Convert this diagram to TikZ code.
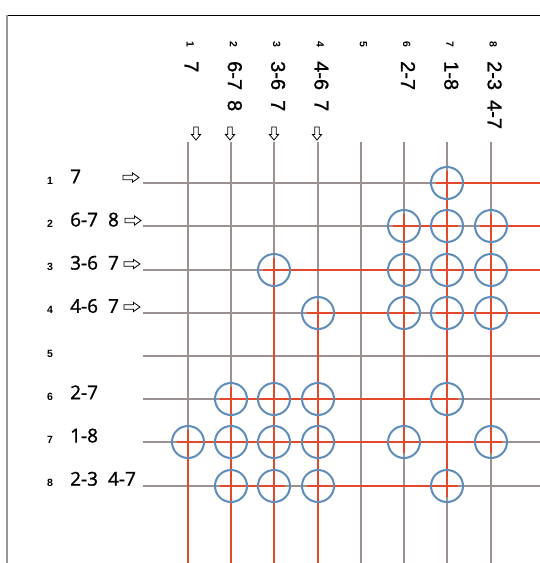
\documentclass[tikz,border=0pt]{standalone}
\usepackage{fontspec}
\setmainfont{Liberation Sans}
\newfontfamily\hdrfont[FakeBold=1.2]{Liberation Sans}
\newfontfamily\rowfont[FakeBold=1.2]{Open Sans}
\newcommand\labelgap{\hspace{10pt}}
\definecolor{gridgray}{RGB}{155,145,145}
\definecolor{redline}{RGB}{228,72,42}
\definecolor{ringblue}{RGB}{95,140,185}
\definecolor{framegray}{RGB}{150,150,150}
\tikzset{
  gridline/.style={draw=gridgray, line width=1.5pt},
  redseg/.style={draw=redline, line width=2pt},
  ring/.style={circle, draw=ringblue, line width=2pt, minimum size=32pt, inner sep=0pt},
  bignum/.style={font=\hdrfont\fontsize{20}{20}\selectfont, inner sep=0pt, anchor=base west},
  rowbig/.style={font=\rowfont\fontsize{19}{19}\selectfont, inner sep=0pt, anchor=base west},
  smallnum/.style={font=\bfseries\fontsize{10.5}{10.5}\selectfont, inner sep=0pt},
  arrowline/.style={draw=black, line width=0.8pt, line join=miter, fill=white},
  darrow/.pic={\path[arrowline] (-2.3,-6.5) -- (2.3,-6.5) -- (2.3,1) -- (4.6,1) -- (0,6.5) -- (-4.6,1) -- (-2.3,1) -- cycle;},
  rarrow/.pic={\path[arrowline] (-8,-2.3) -- (1.5,-2.3) -- (1.5,-4.6) -- (8,0) -- (1.5,4.6) -- (1.5,2.3) -- (-8,2.3) -- cycle;}
}
\begin{document}
\begin{tikzpicture}[x=1pt,y=-1pt]
\useasboundingbox (0,0) rectangle (540,563);
% frame
\coordinate (fa) at (7,15);
\coordinate (fb) at (540,15);
\coordinate (fc) at (7,563);
\draw[black, line width=0.9pt] (fa) -- (fb);
\draw[framegray, line width=2pt] (fa) -- (fc);
% grid coordinates
\foreach \c in {1,...,8}{
  \coordinate (t\c) at ({round(144.3+43.3*\c)},142);
  \coordinate (b\c) at ({round(144.3+43.3*\c)},563);
}
\foreach \r in {1,...,8}{
  \coordinate (l\r) at (143,{round(140+43.2*\r)});
  \coordinate (e\r) at (540,{round(140+43.2*\r)});
  \foreach \c in {1,...,8}{
    \coordinate (g\r\c) at ({round(144.3+43.3*\c)},{round(140+43.2*\r)});
  }
}
% gray grid
\foreach \c in {1,...,8}{ \draw[gridline] (t\c) -- (b\c); }
\foreach \r in {1,...,8}{ \draw[gridline] (l\r) -- (e\r); }
% red horizontals
\draw[redseg] ([xshift=-11pt]g17) -- (e1);
\draw[redseg] ([xshift=-11pt]g26) -- ([xshift=11pt]g27);
\draw[redseg] ([xshift=-11pt]g28) -- (e2);
\draw[redseg] ([xshift=-11pt]g33) -- ([xshift=11pt]g36);
\draw[redseg] ([xshift=-11pt]g37) -- (e3);
\draw[redseg] ([xshift=-11pt]g44) -- ([xshift=11pt]g46);
\draw[redseg] ([xshift=-11pt]g47) -- (e4);
\draw[redseg] ([xshift=-11pt]g62) -- ([xshift=11pt]g67);
\draw[redseg] ([xshift=-11pt]g71) -- ([xshift=11pt]g78);
\draw[redseg] ([xshift=-11pt]g82) -- ([xshift=11pt]g83);
\draw[redseg] ([xshift=-11pt]g84) -- ([xshift=11pt]g87);
% red verticals
\draw[redseg] ([yshift=12pt]g71) -- (b1);
\draw[redseg] ([yshift=12pt]g62) -- (b2);
\draw[redseg] ([yshift=12pt]g33) -- (b3);
\draw[redseg] ([yshift=12pt]g44) -- (b4);
\draw[redseg] ([yshift=12pt]g26) -- ([yshift=-11pt]g76);
\draw[redseg] ([yshift=12pt]g17) -- ([yshift=-11pt]g87);
\draw[redseg] ([yshift=12pt]g28) -- ([yshift=-11pt]g78);
% rings
\foreach \p in {17,26,27,28,33,36,37,38,44,46,47,48,62,63,64,67,71,72,73,74,76,78,82,83,84,87}{
  \node[ring] (n\p) at (g\p) {};
}
% column headers
\foreach \c/\t in {1/7,2/6-7\labelgap 8,3/3-6\labelgap 7,4/4-6\labelgap 7,5/,6/2-7,7/1-8,8/2-3\labelgap 4-7}{
  \node[smallnum, rotate=-90, anchor=base west] (ch\c) at ({144.3+43.3*\c-1},41) {\c};
  \node[bignum, rotate=-90] (cl\c) at ({144.3+43.3*\c-3},61) {\t};
}
% down arrows
\pic at (196,133.5) {darrow};
\pic at (230,133.5) {darrow};
\pic at (274,133.5) {darrow};
\pic at (317,133.5) {darrow};
% row headers
\foreach \r/\t in {1/7,2/6-7\labelgap 8,3/3-6\labelgap 7,4/4-6\labelgap 7,5/,6/2-7,7/1-8,8/2-3\labelgap 4-7}{
  \node[smallnum, anchor=base] (rh\r) at (50,{140+43.2*\r+1}) {\r};
  \node[rowbig] (rl\r) at (70,{140+43.2*\r}) {\t};
}
% right arrows
\pic at (131,177.5) {rarrow};
\pic at (133,220.5) {rarrow};
\pic at (132,264) {rarrow};
\pic at (132,307) {rarrow};
\end{tikzpicture}
\end{document}
